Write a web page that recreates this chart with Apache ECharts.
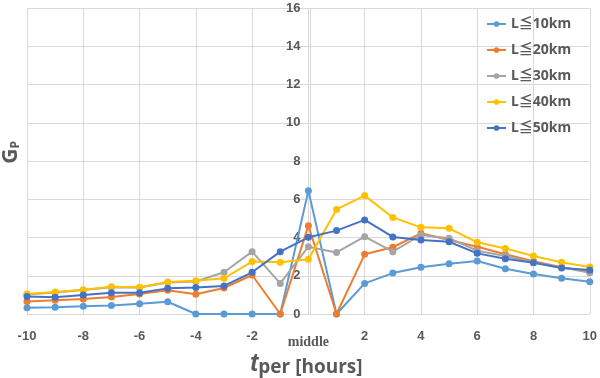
<!DOCTYPE html>
<html>
<head>
<meta charset="utf-8">
<script src="https://cdn.jsdelivr.net/npm/echarts@6/dist/echarts.min.js"></script>
<style>
  html, body { margin: 0; padding: 0; background: #fff; }
  #chart { width: 600px; height: 378px; }
</style>
</head>
<body>
<div id="chart"></div>
<script>
// hours relative to the middle point
const hours = [-10, -9, -8, -7, -6, -5, -4, -3, -2, -1, 0, 1, 2, 3, 4, 5, 6, 7, 8, 9, 10]
const xTicks = [-10, -8, -6, -4, -2, 0, 2, 4, 6, 8, 10]
const yTicks = [0, 2, 4, 6, 8, 10, 12, 14, 16]

const seriesNames = ['L≦10km', 'L≦20km', 'L≦30km', 'L≦40km', 'L≦50km']
const l10 = [0.33, 0.35, 0.40, 0.45, 0.54, 0.64, 0, 0, 0, 0, 6.45, 0, 1.60, 2.14, 2.44, 2.63, 2.77, 2.37, 2.09, 1.87, 1.69]
const l20 = [0.66, 0.72, 0.78, 0.89, 1.05, 1.24, 1.03, 1.36, 2.04, 0, 4.62, 0, 3.12, 3.49, 4.22, 3.87, 3.52, 3.12, 2.76, 2.44, 2.21]
const l30 = [1.02, 1.12, 1.25, 1.40, 1.38, 1.65, 1.70, 2.18, 3.26, 1.60, 3.52, 3.22, 4.04, 3.26, 4.13, 3.96, 3.31, 3.03, 2.70, 2.44, 2.16]
const l40 = [1.05, 1.15, 1.27, 1.43, 1.40, 1.67, 1.74, 1.87, 2.74, 2.70, 2.86, 5.47, 6.19, 5.05, 4.53, 4.48, 3.75, 3.43, 3.03, 2.70, 2.46]
const l50 = [0.92, 0.87, 0.99, 1.11, 1.11, 1.34, 1.38, 1.47, 2.18, 3.26, 4.01, 4.36, 4.92, 4.03, 3.87, 3.78, 3.17, 2.89, 2.68, 2.41, 2.30]

const colors = ['#5B9BD5', '#ED7D31', '#A5A5A5', '#FFC000', '#4472C4']
const allValues = [l10, l20, l30, l40, l50]

const chart = echarts.init(document.getElementById('chart'))

const gridColor = '#d9d9d9'
const labelColor = '#595959'
const gridLeft = 27
const gridRight = 6

// y axis crosses the x axis at "middle" (0)
const plotWidth = 600 - gridLeft - gridRight
const yAxisShift = plotWidth * (0 - xTicks[0]) / (xTicks[xTicks.length - 1] - xTicks[0])

const option = {
  animation: false,
  color: colors,
  grid: { left: gridLeft, right: gridRight, top: 8, bottom: 64 },
  legend: {
    orient: 'vertical',
    left: 486,
    top: 17,
    padding: 0,
    itemGap: 12,
    itemWidth: 19,
    itemHeight: 7,
    data: seriesNames,
    textStyle: {
      color: labelColor,
      fontSize: 14,
      fontWeight: 'bold',
      fontFamily: "'Noto Sans', 'Noto Sans CJK JP', sans-serif"
    }
  },
  xAxis: {
    type: 'value',
    min: xTicks[0],
    max: xTicks[xTicks.length - 1],
    interval: 2,
    axisLine: { show: true, onZero: false, lineStyle: { color: gridColor } },
    axisTick: { show: false },
    splitLine: { show: true, lineStyle: { color: gridColor } },
    axisLabel: {
      margin: 16,
      color: labelColor,
      fontSize: 13,
      fontWeight: 'bold',
      fontFamily: 'Liberation Sans, sans-serif',
      formatter: (v) => (v === 0 ? '{mid|middle}' : String(v)),
      rich: {
        mid: {
          fontFamily: 'Liberation Serif, serif',
          fontWeight: 'bold',
          fontSize: 14,
          color: labelColor,
          padding: [5, 0, 0, 0]
        }
      }
    }
  },
  yAxis: {
    type: 'value',
    min: yTicks[0],
    max: yTicks[yTicks.length - 1],
    interval: 2,
    offset: -yAxisShift,
    axisLine: { show: true, onZero: false, lineStyle: { color: gridColor } },
    axisTick: { show: false },
    splitLine: { show: true, lineStyle: { color: gridColor } },
    axisLabel: {
      margin: 10,
      color: labelColor,
      fontSize: 13,
      fontWeight: 'bold',
      fontFamily: 'Liberation Sans, sans-serif'
    }
  },
  graphic: [
    {
      type: 'text',
      left: 1,
      top: 141,
      rotation: Math.PI / 2,
      style: {
        text: '{g|G}{p|P}',
        rich: {
          g: { fontSize: 21, fontWeight: 'bold', fill: labelColor, fontFamily: "'Open Sans', sans-serif", verticalAlign: 'bottom' },
          p: { fontSize: 12, fontWeight: 'bold', fill: labelColor, fontFamily: "'Open Sans', sans-serif", verticalAlign: 'bottom' }
        }
      }
    },
    {
      type: 'text',
      left: 250,
      top: 352,
      style: {
        text: '{t|t}{p|per [hours]}',
        rich: {
          t: { fontSize: 25, fontWeight: 'bold', fontStyle: 'italic', fill: labelColor, fontFamily: 'Liberation Sans, sans-serif', verticalAlign: 'bottom' },
          p: { fontSize: 19, fontWeight: 'bold', fill: labelColor, fontFamily: "'Open Sans', sans-serif", verticalAlign: 'bottom' }
        }
      }
    }
  ],
  series: seriesNames.map((name, i) => ({
    name,
    type: 'line',
    data: hours.map((h, j) => [h, allValues[i][j]]),
    symbol: 'circle',
    symbolSize: 7,
    lineStyle: { width: 2, color: colors[i] },
    itemStyle: { color: colors[i] }
  }))
}

chart.setOption(option)
</script>
</body>
</html>
